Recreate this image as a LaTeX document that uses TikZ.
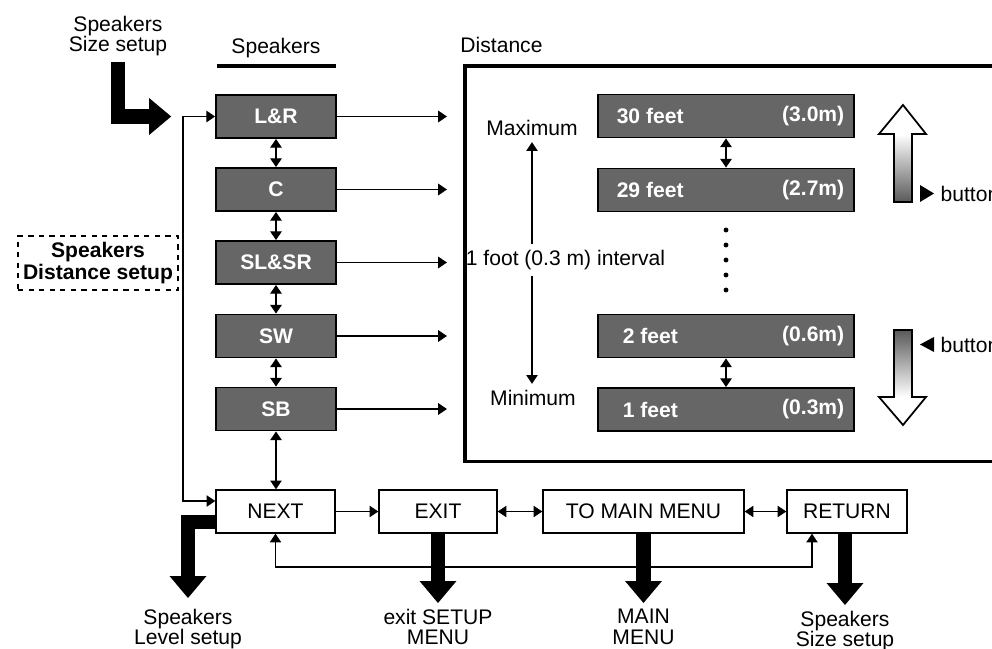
\documentclass[tikz,border=0pt]{standalone}
\usepackage{fontspec}
\setmainfont{Liberation Sans}
\usetikzlibrary{arrows.meta, positioning, calc}
\tikzset{>={Triangle[length=5pt,width=6.5pt]}}
\tikzset{font=\fontsize{12}{11.5}\selectfont}
\tikzset{
  chan/.style={draw, line width=1pt, fill=black!60, text=white,
    font=\fontsize{12}{11.5}\selectfont\bfseries,
    minimum width=2.4cm, minimum height=0.86cm},
  dist/.style={chan, minimum width=5.12cm},
  feet/.style={text=white, font=\fontsize{12}{11.5}\selectfont\bfseries, inner sep=0pt},
  menu/.style={draw, line width=0.8pt, fill=white, minimum height=0.86cm},
  bigarrow/.style={line width=8pt, line join=miter,
    -{Triangle[length=12.5pt,width=21pt,line width=0pt]}},
  conn/.style={line width=0.7pt},
}

\begin{document}
\begin{tikzpicture}[x=0.02cm, y=-0.02cm, conn]
  \useasboundingbox (0,0) rectangle (992,649);
  \clip (0,0) rectangle (992,649);
  % speaker channels
  \node (spk) at (276,48) {Speakers};
  \draw[line width=2.8pt] (217,66) -- (336,66);
  \node[chan] (lr) at (276,116.5) {L\&R};
  \node[chan] (c) at (276,189.5) {C};
  \node[chan] (slsr) at (276,262.5) {SL\&SR};
  \node[chan] (sw) at (276,336) {SW};
  \node[chan] (sb) at (276,409) {SB};
  \draw[<->] (lr) -- (c);
  \draw[<->] (c) -- (slsr);
  \draw[<->] (slsr) -- (sw);
  \draw[<->] (sw) -- (sb);
  % menu row
  \node[menu, minimum width=2.38cm] (next) at (275.5,511.5) {NEXT};
  \node[menu, minimum width=2.36cm] (exit) at (438,511.5) {EXIT};
  \node[menu, minimum width=4.02cm] (tomain) at (643.5,511.5) {TO MAIN MENU};
  \node[menu, minimum width=2.4cm] (return) at (847,511.5) {RETURN};
  \draw[<->] (sb.south) -- (sb.south |- next.north);
  \draw[->] (next) -- (exit);
  \draw[<->] (exit) -- (tomain);
  \draw[<->] (tomain) -- (return);
  \coordinate (fb) at (183,116.5);
  \draw[<->] (lr.west) -- (fb) |- ([yshift=0.21cm]next.west);
  \coordinate (loop) at (812,567);
  \draw[<->] (next.south) |- (loop) -- (loop |- return.south);
  % dashed title
  \node[draw, dashed, line width=0.8pt, align=center, inner sep=1pt,
    font=\fontsize{12}{12.5}\selectfont\bfseries,
    minimum width=3.2cm, minimum height=1.08cm] (dsetup) at (98,263) {Speakers\\Distance setup};
  % distance panel
  \node[anchor=west] (distlbl) at (454,45) {Distance};
  \node[draw, line width=2pt, anchor=north west, minimum width=10.94cm,
    minimum height=7.92cm] (distbox) at (463,64) {};
  \draw[->, shorten >=0.32cm] (lr.east) -- (lr.east -| distbox.west);
  \draw[->, shorten >=0.32cm] (c.east) -- (c.east -| distbox.west);
  \draw[->, shorten >=0.32cm] (slsr.east) -- (slsr.east -| distbox.west);
  \draw[->, shorten >=0.32cm] (sw.east) -- (sw.east -| distbox.west);
  \draw[->, shorten >=0.32cm] (sb.east) -- (sb.east -| distbox.west);
  \node[dist] (f30) at (726,116) {};
  \node[dist] (f29) at (726,190) {};
  \node[dist] (f2) at (726,336) {};
  \node[dist] (f1) at (726,409.5) {};
  \node[feet, anchor=west] at ([xshift=0.38cm]f30.west) {30 feet};
  \node[feet, anchor=east] at ([xshift=-0.2cm]f30.east) {(3.0m)};
  \node[feet, anchor=west] at ([xshift=0.38cm]f29.west) {29 feet};
  \node[feet, anchor=east] at ([xshift=-0.2cm]f29.east) {(2.7m)};
  \node[feet, anchor=west] at ([xshift=0.5cm]f2.west) {2 feet};
  \node[feet, anchor=east] at ([xshift=-0.2cm]f2.east) {(0.6m)};
  \node[feet, anchor=west] at ([xshift=0.5cm]f1.west) {1 feet};
  \node[feet, anchor=east] at ([xshift=-0.2cm]f1.east) {(0.3m)};
  \draw[<->] (f30) -- (f29);
  \draw[<->] (f2) -- (f1);
  \foreach \y in {230,245,...,290} \fill (726,\y) circle (1.4pt);
  \node (maxlbl) at (532,128) {Maximum};
  \node (minlbl) at (533,398) {Minimum};
  \node[anchor=west, inner sep=3pt] (interval) at (460,260) {1 foot (0.3 m) interval};
  \draw[->] (interval.north -| maxlbl) -- (maxlbl.south);
  \draw[->] (interval.south -| maxlbl) -- (maxlbl.south |- minlbl.north);
  % up / down buttons
  \fill[white] (879,134) -- (903,105) -- (926,134) -- cycle;
  \shade[top color=white, bottom color=black!65] (894,134) rectangle (912,202);
  \draw[line width=1pt]
    (894,202) -- (894,134) -- (879,134) -- (903,105) -- (926,134) -- (912,134) -- (912,202) -- cycle;
  \fill[white] (879,397) -- (903,425) -- (926,397) -- cycle;
  \shade[top color=black!65, bottom color=white] (894,330) rectangle (912,397);
  \draw[line width=1pt]
    (894,330) -- (894,397) -- (879,397) -- (903,425) -- (926,397) -- (912,397) -- (912,330) -- cycle;
  \fill (920,185) -- (934,193.5) -- (920,202) -- cycle;
  \node[anchor=west, inner sep=0pt] (btnup) at (940,194) {button};
  \fill (934,337) -- (920,344.5) -- (934,352) -- cycle;
  \node[anchor=west, inner sep=0pt] (btndown) at (940,345) {button};
  % big arrows in and out
  \node[align=center] (sizetop) at (118,36) {Speakers\\Size setup};
  \draw[bigarrow, shorten >=0.88cm] (sizetop.south) |- (lr.west);
  \node[align=center, anchor=north] (lvl) at (188,603) {Speakers\\Level setup};
  \draw[bigarrow, shorten >=0.1cm] ([yshift=-0.21cm]next.west) -| (lvl.north);
  \node[align=center, anchor=north] (exitlbl) at (438,603) {exit SETUP\\MENU};
  \draw[bigarrow] (exit.south) -- (exitlbl.north);
  \node[align=center, anchor=north] (mainlbl) at (643.5,603) {MAIN\\MENU};
  \draw[bigarrow] (tomain.south) -- (mainlbl.north);
  \node[align=center, anchor=north] (sizelbl) at (845,605) {Speakers\\Size setup};
  \draw[bigarrow] (sizelbl.north |- return.south) -- (sizelbl.north);
\end{tikzpicture}
\end{document}
